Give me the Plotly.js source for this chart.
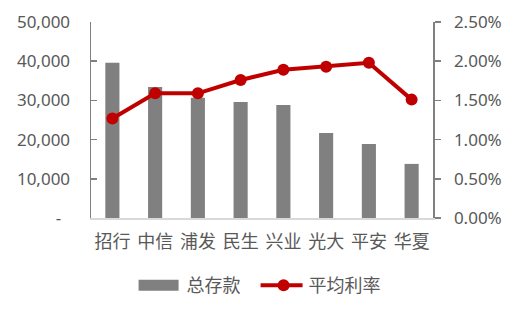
<!DOCTYPE html>
<html>
<head>
<meta charset="utf-8">
<script src="https://cdn.plot.ly/plotly-3.0.1.min.js"></script>
<style>html,body{margin:0;padding:0;background:#fff;}#chart{width:511px;height:316px;}</style>
</head>
<body>
<div id="chart"></div>
<script>
var banks = ['招行', '中信', '浦发', '民生', '兴业', '光大', '平安', '华夏'];
var deposits = [39600, 33400, 30700, 29600, 28800, 21700, 18900, 13800];
var rates = [0.0127, 0.0159, 0.0159, 0.0176, 0.0189, 0.0193, 0.0198, 0.0151];
var leftTickVals = [0, 10000, 20000, 30000, 40000, 50000];
var leftTickText = ['-\u00a0\u00a0', '10,000', '20,000', '30,000', '40,000', '50,000'];
var rightTickVals = [0, 0.005, 0.01, 0.015, 0.02, 0.025];

var fontFam = '"Noto Sans", "Noto Sans CJK SC", sans-serif';
var cjkFam = '"Noto Sans CJK SC", sans-serif';
var txt = '#595959';

var traces = [
  {
    type: 'bar', name: '总存款', x: banks, y: deposits,
    marker: {color: '#808080'}, yaxis: 'y'
  },
  {
    type: 'scatter', mode: 'lines+markers', name: '平均利率', x: banks, y: rates,
    yaxis: 'y2', line: {color: '#c00000', width: 4},
    marker: {color: '#c00000', size: 12}
  }
];

var layout = {
  width: 511, height: 316,
  margin: {l: 91, r: 78, t: 22, b: 98},
  paper_bgcolor: '#fff', plot_bgcolor: '#fff',
  font: {family: fontFam, size: 17, color: txt},
  showlegend: true,
  bargap: 0.67,
  xaxis: {
    type: 'category', range: [-0.5, 7.5],
    showline: true, linecolor: '#d9d9d9', linewidth: 1.5,
    ticks: '', showgrid: false, zeroline: false,
    ticklabelstandoff: 7,
    tickfont: {family: cjkFam, size: 18, color: txt}
  },
  yaxis: {
    range: [0, 50000], tickvals: leftTickVals, ticktext: leftTickText,
    showgrid: false, zeroline: false,
    showline: true, linecolor: '#808080', linewidth: 1.5,
    ticks: 'inside', ticklen: 6, tickcolor: '#808080', tickwidth: 1.5,
    ticklabelstandoff: 16,
    tickfont: {size: 17, color: txt}
  },
  yaxis2: {
    overlaying: 'y', side: 'right', range: [0, 0.025],
    tickvals: rightTickVals, tickformat: '.2%',
    showgrid: false, zeroline: false,
    showline: true, linecolor: '#808080', linewidth: 1.5,
    ticks: 'outside', ticklen: 6, tickcolor: '#808080', tickwidth: 1.5,
    ticklabelstandoff: 10,
    tickfont: {size: 17, color: txt}
  },
  legend: {
    orientation: 'h', x: 0.49, xanchor: 'center', y: -0.345, yanchor: 'middle',
    font: {family: cjkFam, size: 18, color: txt},
    itemwidth: 40, traceorder: 'normal',
    entrywidth: 67, entrywidthmode: 'pixels'
  }
};

Plotly.newPlot('chart', traces, layout, {displayModeBar: false, staticPlot: true}).then(function (gd) {
  var items = gd.querySelectorAll('.legend .traces');
  if (items.length >= 2) {
    items[0].querySelectorAll('.legendpoints path').forEach(function (p) {
      p.setAttribute('d', 'M-23,-5.5H17V5.5H-23Z');
    });
    var ln = items[1].querySelector('path.js-line');
    if (ln) { ln.setAttribute('d', 'M2,0h42'); }
  }
});
</script>
</body>
</html>
